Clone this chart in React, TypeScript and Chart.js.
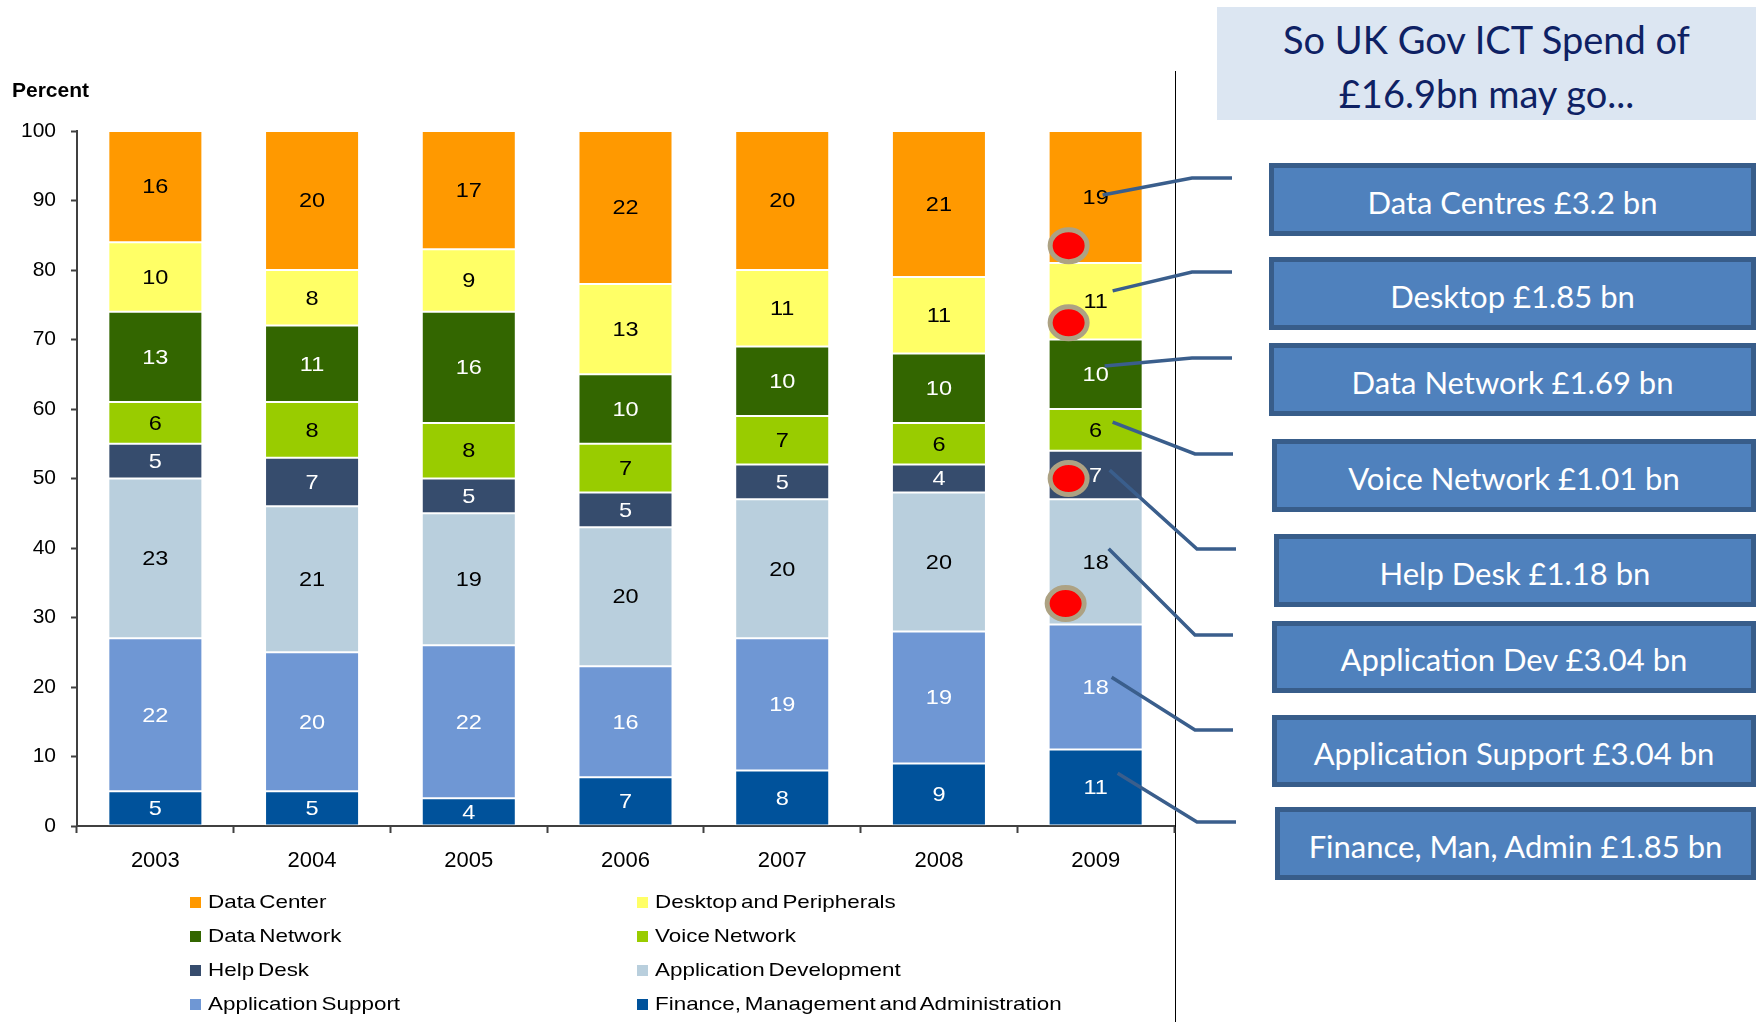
import React, { useEffect, useRef } from 'react';
import { Chart, registerables } from 'chart.js';

Chart.register(...registerables);

// ---------- data ----------
const years = ['2003', '2004', '2005', '2006', '2007', '2008', '2009'];
const yTickValues = [0, 10, 20, 30, 40, 50, 60, 70, 80, 90, 100];

const dataCenter = [16, 20, 17, 22, 20, 21, 19];
const desktopPeripherals = [10, 8, 9, 13, 11, 11, 11];
const dataNetwork = [13, 11, 16, 10, 10, 10, 10];
const voiceNetwork = [6, 8, 8, 7, 7, 6, 6];
const helpDesk = [5, 7, 5, 5, 5, 4, 7];
const appDevelopment = [23, 21, 19, 20, 20, 20, 18];
const appSupport = [22, 20, 22, 16, 19, 19, 18];
const financeMgmtAdmin = [5, 5, 4, 7, 8, 9, 11];

const titleLines = ['So UK Gov ICT Spend of', '£16.9bn may go...'];
const spendLabels = [
  'Data Centres £3.2 bn',
  'Desktop £1.85 bn',
  'Data Network £1.69 bn',
  'Voice Network £1.01 bn',
  'Help Desk £1.18 bn',
  'Application Dev £3.04 bn',
  'Application Support £3.04 bn',
  'Finance, Man, Admin £1.85 bn',
];

// ---------- styles ----------
const FONT = '"Liberation Sans", Arial, Helvetica, sans-serif';
const series = [
  { label: 'Finance, Management and Administration', data: financeMgmtAdmin, color: '#00529B', text: '#ffffff' },
  { label: 'Application Support', data: appSupport, color: '#6F97D4', text: '#ffffff' },
  { label: 'Application Development', data: appDevelopment, color: '#B9CFDD', text: '#000000' },
  { label: 'Help Desk', data: helpDesk, color: '#364C6D', text: '#ffffff' },
  { label: 'Voice Network', data: voiceNetwork, color: '#99CC00', text: '#000000' },
  { label: 'Data Network', data: dataNetwork, color: '#336600', text: '#ffffff' },
  { label: 'Desktop and Peripherals', data: desktopPeripherals, color: '#FFFF66', text: '#000000' },
  { label: 'Data Center', data: dataCenter, color: '#FF9900', text: '#000000' },
];
const legendOrder = [
  'Data Center', 'Desktop and Peripherals',
  'Data Network', 'Voice Network',
  'Help Desk', 'Application Development',
  'Application Support', 'Finance, Management and Administration',
];

// annotation layout (callout dots and connector lines on the 2009 bar)
const dotValues = [83.5, 72.4, 50, 32];
const dotDx = [-27, -27, -27, -30];
const connStartValue = [90.8, 77, 66.2, 58.1, 51.2, 39.9, 21.4, 7.6];
const connStartDx = [7, 17, 9, 17, 14, 13, 16, 22];
const connBendX = [1192, 1192, 1192, 1195, 1197, 1195, 1195, 1197];
const connEndX = [1232, 1232, 1232, 1233, 1236, 1233, 1233, 1236];
const connEndY = [178, 272, 358, 454, 549, 635, 730, 822];

const boxLeft = [1269, 1269, 1269, 1272, 1274, 1272, 1272, 1275];
const boxTop = [163, 257, 343, 439, 534, 621, 715, 807];
const boxHeight = [73, 73, 73, 73, 73, 72, 72, 73];

const W = 1756;
const H = 1022;

const overlayPlugin = {
  id: 'overlay',
  afterDatasetsDraw(chart: any) {
    const ctx = chart.ctx as CanvasRenderingContext2D;
    // data labels
    chart.data.datasets.forEach((ds: any, di: number) => {
      const meta = chart.getDatasetMeta(di);
      meta.data.forEach((bar: any, i: number) => {
        const p = bar.getProps(['x', 'y', 'base'], true);
        ctx.save();
        ctx.translate(p.x, (p.y + p.base) / 2 + 1);
        ctx.scale(1.12, 1);
        ctx.font = `21px ${FONT}`;
        ctx.fillStyle = series[di].text;
        ctx.textAlign = 'center';
        ctx.textBaseline = 'middle';
        ctx.fillText(String(ds.data[i]), 0, 0);
        ctx.restore();
      });
    });
    const xs = chart.scales.x;
    const ys = chart.scales.y;
    const cx = xs.getPixelForValue(years.length - 1);
    // connectors
    ctx.save();
    ctx.strokeStyle = '#3A5E8C';
    ctx.lineWidth = 3.5;
    ctx.lineJoin = 'miter';
    for (let i = 0; i < connStartValue.length; i++) {
      ctx.beginPath();
      ctx.moveTo(cx + connStartDx[i], ys.getPixelForValue(connStartValue[i]));
      ctx.lineTo(connBendX[i], connEndY[i]);
      ctx.lineTo(connEndX[i], connEndY[i]);
      ctx.stroke();
    }
    ctx.restore();
    // red dots
    for (let i = 0; i < dotValues.length; i++) {
      const x = cx + dotDx[i];
      const y = ys.getPixelForValue(dotValues[i]);
      ctx.save();
      ctx.beginPath();
      ctx.ellipse(x, y, 18.5, 16, 0, 0, Math.PI * 2);
      ctx.fillStyle = '#FF0000';
      ctx.fill();
      ctx.lineWidth = 5;
      ctx.strokeStyle = '#ADA283';
      ctx.stroke();
      ctx.restore();
    }
  },
};

function ChartCanvas() {
  const ref = useRef<HTMLCanvasElement | null>(null);
  useEffect(() => {
    if (!ref.current) return;
    const chart = new Chart(ref.current, {
      type: 'bar',
      data: {
        labels: years,
        datasets: series.map((s) => ({
          label: s.label,
          data: s.data,
          backgroundColor: s.color,
          borderColor: 'rgba(255,255,255,0.35)',
          borderWidth: 1,
          borderSkipped: false,
          categoryPercentage: 1,
          barPercentage: 0.6,
        })),
      },
      options: {
        responsive: false,
        animation: false,
        devicePixelRatio: 1,
        layout: { padding: { left: 0, top: 131, right: W - 1174, bottom: H - 826 - 60 } },
        plugins: {
          legend: { display: false },
          tooltip: { enabled: false },
          title: { display: false },
        },
        scales: {
          x: {
            stacked: true,
            afterFit: (s: any) => { s.height = 60; },
            border: { display: true, color: '#404040', width: 2 },
            grid: {
              offset: true,
              drawOnChartArea: false,
              drawTicks: true,
              tickLength: 7,
              tickColor: '#404040',
              tickWidth: 2,
            },
            ticks: {
              color: '#000',
              padding: 15,
              font: { family: FONT, size: 22 },
            },
          },
          y: {
            stacked: true,
            min: 0,
            max: 100,
            afterFit: (s: any) => { s.width = 77; },
            afterBuildTicks: (s: any) => { s.ticks = yTickValues.map((v) => ({ value: v })); },
            border: { display: true, color: '#404040', width: 2 },
            grid: {
              drawOnChartArea: false,
              drawTicks: true,
              tickLength: 6,
              tickColor: '#404040',
              tickWidth: 2,
            },
            ticks: {
              color: '#000',
              padding: 15,
              font: { family: FONT, size: 21 },
            },
          },
        },
      },
      plugins: [overlayPlugin],
    });
    return () => chart.destroy();
  }, []);
  return (
    <canvas
      ref={ref}
      width={W}
      height={H}
      style={{ position: 'absolute', left: 0, top: 0, width: W, height: H }}
    />
  );
}

export default function App() {
  const colorOf = (name: string) => series.find((s) => s.label === name)!.color;
  return (
    <div
      style={{
        position: 'absolute',
        left: 0,
        top: 0,
        width: W,
        height: H,
        overflow: 'hidden',
        background: '#ffffff',
      }}
    >
      {/* separator line */}
      <div style={{ position: 'absolute', left: 1175, top: 71, width: 1, height: H - 71, background: '#000' }} />
      <ChartCanvas />
      {/* Percent label */}
      <div
        style={{
          position: 'absolute',
          left: 12,
          top: 77,
          fontFamily: FONT,
          fontWeight: 'bold',
          fontSize: 21,
          lineHeight: '26px',
          color: '#000',
        }}
      >
        Percent
      </div>
      {/* legend */}
      {legendOrder.map((name, i) => {
        const col = i % 2;
        const row = Math.floor(i / 2);
        const sqLeft = col === 0 ? 190 : 637;
        const cy = 902 + row * 34;
        return (
          <div key={name}>
            <div
              style={{
                position: 'absolute',
                left: sqLeft,
                top: cy - 5,
                width: 11,
                height: 11,
                background: colorOf(name),
              }}
            />
            <div
              style={{
                position: 'absolute',
                left: sqLeft + 18,
                top: cy - 12,
                height: 24,
                lineHeight: '24px',
                fontFamily: FONT,
                fontSize: 19,
                color: '#000',
                whiteSpace: 'nowrap',
                wordSpacing: -2,
                transform: 'scaleX(1.18)',
                transformOrigin: 'left center',
              }}
            >
              {name}
            </div>
          </div>
        );
      })}
      {/* title box */}
      <div
        style={{
          position: 'absolute',
          left: 1217,
          top: 7,
          width: W - 1217,
          height: 113,
          background: '#DCE6F2',
          display: 'flex',
          flexDirection: 'column',
          alignItems: 'center',
          justifyContent: 'center',
          fontFamily: 'Lato, "Open Sans", sans-serif',
          fontSize: 38,
          lineHeight: '54px',
          color: '#0E2164',
          paddingTop: 4,
          boxSizing: 'border-box',
        }}
      >
        {titleLines.map((t) => (
          <div key={t} style={{ whiteSpace: 'nowrap' }}>{t}</div>
        ))}
      </div>
      {/* spend boxes */}
      {spendLabels.map((t, i) => (
        <div
          key={t}
          style={{
            position: 'absolute',
            left: boxLeft[i],
            top: boxTop[i],
            width: W - boxLeft[i],
            height: boxHeight[i],
            boxSizing: 'border-box',
            background: '#4F81BD',
            border: '5px solid #385D8A',
            display: 'flex',
            alignItems: 'center',
            justifyContent: 'center',
            fontFamily: 'Lato, "Open Sans", sans-serif',
            fontSize: 31,
            color: '#ffffff',
            whiteSpace: 'nowrap',
            paddingTop: 4,
          }}
        >
          {t}
        </div>
      ))}
    </div>
  );
}
